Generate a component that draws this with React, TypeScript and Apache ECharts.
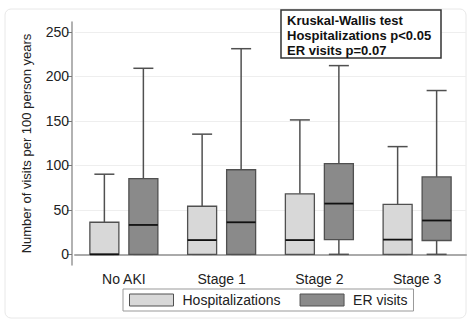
import React, { useEffect, useRef } from "react";
import * as echarts from "echarts";

const categories = ["No AKI", "Stage 1", "Stage 2", "Stage 3"];
// [min, Q1, median, Q3, max]
const hospitalizations = [
  [0, 0, 0, 36, 90],
  [0, 0, 16, 54, 135],
  [0, 0, 16, 68, 151],
  [0, 0, 16.5, 56, 121],
];
const erVisits = [
  [0, 0, 33, 85, 209],
  [0, 0, 36, 95, 231],
  [0, 16.5, 57, 102, 212],
  [0, 15.5, 38, 87, 184],
];
const yTicks = [0, 50, 100, 150, 200, 250];
const annotationLines = ["Kruskal-Wallis test", "Hospitalizations p<0.05", "ER visits p=0.07"];

const FONT = '"Liberation Sans", Arial, sans-serif';
const LIGHT = "#d8d8d8";
const DARK = "#8a8a8a";
const EDGE = "#505050";

function makeRender(offset: number, fill: string) {
  return (params: any, api: any) => {
    const cat = api.value(0);
    const cx = api.coord([cat, 0])[0] + offset;
    const y = (i: number) => api.coord([cat, api.value(i)])[1];
    const yMin = y(1), yQ1 = y(2), yMed = y(3), yQ3 = y(4), yMax = y(5);
    const bw = 29;
    const cap = 20;
    const lineStyle = { stroke: EDGE, lineWidth: 1.5 };
    return {
      type: "group",
      children: [
        { type: "line", shape: { x1: cx, y1: yQ3, x2: cx, y2: yMax }, style: lineStyle },
        { type: "line", shape: { x1: cx - cap / 2, y1: yMax, x2: cx + cap / 2, y2: yMax }, style: lineStyle },
        { type: "line", shape: { x1: cx, y1: yQ1, x2: cx, y2: yMin }, style: lineStyle },
        { type: "line", shape: { x1: cx - cap / 2, y1: yMin, x2: cx + cap / 2, y2: yMin }, style: lineStyle },
        {
          type: "rect",
          shape: { x: cx - bw / 2, y: yQ3, width: bw, height: yQ1 - yQ3 },
          style: { fill, stroke: EDGE, lineWidth: 1.3 },
        },
        { type: "line", shape: { x1: cx - bw / 2, y1: yMed, x2: cx + bw / 2, y2: yMed }, style: { stroke: "#111", lineWidth: 1.8 } },
      ],
    };
  };
}

export default function App() {
  const ref = useRef<HTMLDivElement>(null);
  useEffect(() => {
    if (!ref.current) return;
    const chart = echarts.init(ref.current, null, { renderer: "svg" });
    const hData = hospitalizations.map((d, i) => [i, ...d]);
    const eData = erVisits.map((d, i) => [i, ...d]);
    chart.setOption({
      animation: false,
      backgroundColor: "#ffffff",
      grid: { left: 75, right: 2, top: 22, bottom: 56, containLabel: false },
      xAxis: {
        type: "category",
        data: categories,
        boundaryGap: true,
        axisLine: { lineStyle: { color: "#aaaaaa", width: 2 } },
        axisTick: { show: false },
        axisLabel: { color: "#222", fontSize: 14, fontFamily: FONT, margin: 7 },
      },
      yAxis: {
        type: "value",
        min: -12,
        max: 261,
        offset: 3,
        name: "Number of visits per 100 person years",
        nameLocation: "middle",
        nameGap: 39,
        nameTextStyle: { color: "#222", fontSize: 13, fontFamily: FONT },
        axisLine: { show: true, lineStyle: { color: "#999999", width: 1.5 } },
        axisTick: { show: true, length: 5, customValues: yTicks, lineStyle: { color: "#777" } },
        axisLabel: { color: "#222", fontSize: 14, fontFamily: FONT, margin: 3, customValues: yTicks },
        splitLine: { show: true, lineStyle: { color: "#eeeeee", width: 1 } },
      },
      legend: {
        left: 123,
        top: 289,
        orient: "horizontal",
        padding: [4, 6, 4, 6],
        borderColor: "#999",
        borderWidth: 1,
        itemWidth: 44,
        itemHeight: 12,
        itemGap: 19,
        icon: "rect",
        textStyle: { color: "#222", fontSize: 14, fontFamily: FONT, padding: [0, 0, 0, 4] },
        data: [
          { name: "Hospitalizations", itemStyle: { color: LIGHT, borderColor: EDGE, borderWidth: 1 } },
          { name: "ER visits", itemStyle: { color: DARK, borderColor: EDGE, borderWidth: 1 } },
        ],
      },
      series: [
        {
          name: "Hospitalizations",
          type: "custom",
          itemStyle: { color: LIGHT },
          encode: { x: 0, y: [1, 2, 3, 4, 5] },
          data: hData,
          renderItem: makeRender(-19.5, LIGHT),
        },
        {
          name: "ER visits",
          type: "custom",
          itemStyle: { color: DARK },
          encode: { x: 0, y: [1, 2, 3, 4, 5] },
          data: eData,
          renderItem: makeRender(19.5, DARK),
        },
      ],
      graphic: [
        {
          type: "rect",
          shape: { x: 5, y: 9, width: 461, height: 309, r: 6 },
          style: { fill: "none", stroke: "#e8e8e8", lineWidth: 1 },
          silent: true,
        },
        {
          type: "rect",
          shape: { x: 281, y: 10, width: 160, height: 48 },
          style: { fill: "#ffffff", stroke: "#333333", lineWidth: 1.5 },
          z: 10,
        },
        {
          type: "text",
          x: 287,
          y: 13,
          z: 11,
          style: {
            text: annotationLines.join("\n"),
            font: `bold 13px ${FONT}`,
            lineHeight: 15,
            fill: "#111",
          },
        },
      ],
    });
    return () => chart.dispose();
  }, []);
  return <div ref={ref} style={{ position: "fixed", left: 0, top: 0, width: 468, height: 321 }} />;
}
